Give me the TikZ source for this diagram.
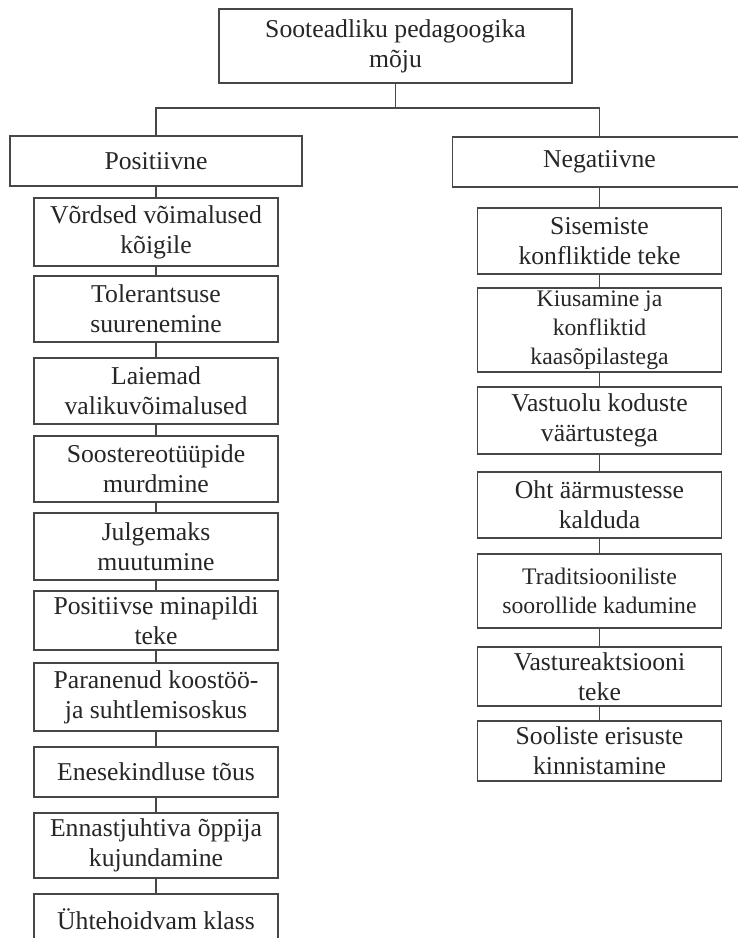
\documentclass[tikz,border=0pt]{standalone}
\usepackage{fontspec}
\setmainfont{Liberation Serif}
\begin{document}
\begin{tikzpicture}[x=1pt,y=-1pt,
  box/.style={draw=black!72, line width=1.3pt, inner sep=0pt, align=center, text=black!85,
    font=\fontsize{25.7}{30}\selectfont},
  smallbox/.style={box, font=\fontsize{23.7}{29}\selectfont},
  conn/.style={draw=black!72, line width=1.3pt}]
\clip (0,0) rectangle (738,938);
\fill[white] (0,0) rectangle (738,938);
% top
\node[box, minimum width=353pt, minimum height=74pt] (top) at (395.5,46) {Sooteadliku pedagoogika\\mõju};
\node[box, minimum width=292pt, minimum height=50pt] (pos) at (156,161) {Positiivne};
\node[box, minimum width=294pt, minimum height=50pt] (neg) at (599.5,162) {Negatiivne};
% left column
\node[box, minimum width=244pt, minimum height=68pt] (p1) at (156,232) {Võrdsed võimalused\\kõigile};
\node[box, minimum width=244pt, minimum height=66pt] (p2) at (156,309) {Tolerantsuse\\suurenemine};
\node[box, minimum width=244pt, minimum height=66pt] (p3) at (156,391) {Laiemad\\valikuvõimalused};
\node[box, minimum width=244pt, minimum height=66pt] (p4) at (156,469) {Soostereotüüpide\\murdmine};
\node[box, minimum width=244pt, minimum height=67pt] (p5) at (156,546.5) {Julgemaks\\muutumine};
\node[box, minimum width=244pt, minimum height=59pt] (p6) at (156,620.5) {Positiivse minapildi\\teke};
\node[box, minimum width=244pt, minimum height=68pt] (p7) at (156,697) {Paranenud koostöö-\\ja suhtlemisoskus};
\node[box, minimum width=244pt, minimum height=50pt] (p8) at (156,772) {Enesekindluse tõus};
\node[box, minimum width=244pt, minimum height=65pt] (p9) at (156,845.5) {Ennastjuhtiva õppija\\kujundamine};
\node[box, minimum width=244pt, minimum height=50pt] (p10) at (156,919) {Ühtehoidvam klass};
% right column
\node[box, minimum width=244pt, minimum height=66pt] (n1) at (599.5,241) {Sisemiste\\konfliktide teke};
\node[smallbox, minimum width=244pt, minimum height=84pt] (n2) at (599.5,330) {Kiusamine ja\\konfliktid\\kaasõpilastega};
\node[box, minimum width=244pt, minimum height=67pt] (n3) at (599.5,420.5) {Vastuolu koduste\\väärtustega};
\node[box, minimum width=244pt, minimum height=66pt] (n4) at (599.5,505) {Oht äärmustesse\\kalduda};
\node[smallbox, minimum width=244pt, minimum height=74pt] (n5) at (599.5,591) {Traditsiooniliste\\soorollide kadumine};
\node[box, minimum width=244pt, minimum height=59pt] (n6) at (599.5,676.5) {Vastureaktsiooni\\teke};
\node[box, minimum width=244pt, minimum height=60pt] (n7) at (599.5,751) {Sooliste erisuste\\kinnistamine};
% connectors
\coordinate (hm) at (395.5,108);
\coordinate (hl) at (156,108);
\coordinate (hr) at (599.5,108);
\draw[conn] (top.south) -- (hm);
\draw[conn] (pos.north) -- (hl) -- (hr) -- (neg.north);
\draw[conn] (pos.south) -- (p1.north);
\draw[conn] (p1.south) -- (p2.north);
\draw[conn] (p2.south) -- (p3.north);
\draw[conn] (p3.south) -- (p4.north);
\draw[conn] (p4.south) -- (p5.north);
\draw[conn] (p5.south) -- (p6.north);
\draw[conn] (p6.south) -- (p7.north);
\draw[conn] (p7.south) -- (p8.north);
\draw[conn] (p8.south) -- (p9.north);
\draw[conn] (p9.south) -- (p10.north);
\draw[conn] (neg.south) -- (n1.north);
\draw[conn] (n1.south) -- (n2.north);
\draw[conn] (n2.south) -- (n3.north);
\draw[conn] (n3.south) -- (n4.north);
\draw[conn] (n4.south) -- (n5.north);
\draw[conn] (n5.south) -- (n6.north);
\draw[conn] (n6.south) -- (n7.north);
\end{tikzpicture}
\end{document}
